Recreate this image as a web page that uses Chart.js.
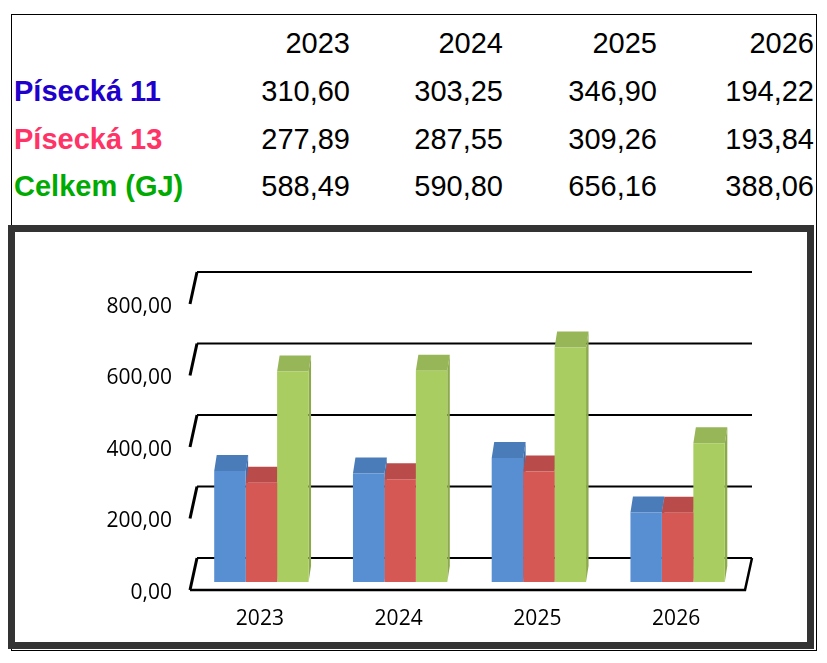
<!DOCTYPE html>
<html>
<head>
<meta charset="utf-8">
<script src="https://cdn.jsdelivr.net/npm/chart.js@4.4.1/dist/chart.umd.min.js"></script>
<style>
  html, body { margin: 0; padding: 0; background: #fff; }
  body { width: 827px; height: 663px; position: relative; overflow: hidden; }
  #frame { position: absolute; left: 11px; top: 14px; width: 806px; height: 637px; border: 1px solid #000; box-sizing: border-box; }
  #chartBox { position: absolute; left: 8px; top: 225px; width: 806px; height: 424px; border: 7px solid #333; box-sizing: border-box; background: #fff; }
  .cell { position: absolute; font-family: "Liberation Sans", Arial, sans-serif; font-size: 29px; line-height: 29px; white-space: nowrap; color: #000; }
  .name { font-weight: bold; left: 14px; }
  canvas { position: absolute; left: 0; top: 0; }
</style>
</head>
<body>
<div id="frame"></div>
<div id="table"></div>
<div id="chartBox"></div>
<canvas id="chart" width="827" height="663"></canvas>
<script>
// chart data
const years = ['2023', '2024', '2025', '2026'];
const seriesNames = ['Písecká 11', 'Písecká 13', 'Celkem (GJ)'];
const pisecka11 = [310.60, 303.25, 346.90, 194.22];
const pisecka13 = [277.89, 287.55, 309.26, 193.84];
const celkem = [588.49, 590.80, 656.16, 388.06];
const yTicks = [0, 200, 400, 600, 800];

const nameColors = ['#2000cc', '#ff3366', '#00aa00'];
const frontColors = ['#588fd2', '#d55855', '#aacd62'];
const topColors = ['#4a7cba', '#b94c4a', '#97b658'];
const sideColors = ['#416eaa', '#a54240', '#8caa4b'];

const fmt = v => v.toFixed(2).replace('.', ',');

// --- table above the chart ---
const colRight = [350, 503, 657, 814];
const rowTop = [28.5, 77, 124.5, 172];
const table = document.getElementById('table');

function addCell(text, top, right, cls, color) {
    const d = document.createElement('div');
    d.className = 'cell' + (cls ? ' ' + cls : '');
    d.textContent = text;
    d.style.top = top + 'px';
    if (right != null) d.style.right = (827 - right) + 'px';
    if (color) d.style.color = color;
    table.appendChild(d);
}

years.forEach((yr, i) => addCell(yr, rowTop[0], colRight[i]));
[pisecka11, pisecka13, celkem].forEach((vals, r) => {
    addCell(seriesNames[r], rowTop[r + 1], null, 'name', nameColors[r]);
    vals.forEach((v, i) => addCell(fmt(v), rowTop[r + 1], colRight[i]));
});

// --- pseudo 3D look ---
const BAR_DX = 2.5, BAR_DY = 16;      // bar depth
const BACK_DX = 5, BACK_DY = 24;      // bars plane -> back wall
const FRONT_DX = 2, FRONT_DY = 8;     // bars plane -> front edge of floor

const pseudo3d = {
    id: 'pseudo3d',
    beforeDatasetsDraw(chart) {
        const { ctx, chartArea } = chart;
        const y = chart.scales.y;
        const l = chartArea.left, r = chartArea.right;
        ctx.save();
        ctx.strokeStyle = '#000';

        // back wall lines + slanted left ticks
        y.ticks.forEach(t => {
            const py = y.getPixelForValue(t.value);
            ctx.lineWidth = 2;
            ctx.beginPath();
            ctx.moveTo(l + BACK_DX, py - BACK_DY);
            ctx.lineTo(r + BACK_DX, py - BACK_DY);
            ctx.stroke();
            ctx.lineWidth = 3;
            ctx.beginPath();
            ctx.moveTo(l + BACK_DX, py - BACK_DY);
            ctx.lineTo(l - FRONT_DX, py + FRONT_DY);
            ctx.stroke();
        });

        // floor front edge and right side
        const p0 = y.getPixelForValue(0);
        ctx.lineWidth = 2.5;
        ctx.beginPath();
        ctx.moveTo(l - FRONT_DX, p0 + FRONT_DY);
        ctx.lineTo(r - FRONT_DX, p0 + FRONT_DY);
        ctx.lineTo(r + BACK_DX, p0 - BACK_DY);
        ctx.stroke();

        // bar side and top faces (front faces are drawn by Chart.js afterwards)
        chart.data.datasets.forEach((ds, i) => {
            const meta = chart.getDatasetMeta(i);
            meta.data.forEach(bar => {
                const { x, y: top, base, width } = bar.getProps(['x', 'y', 'base', 'width'], true);
                const left = x - width / 2, right = x + width / 2;
                ctx.fillStyle = sideColors[i];
                ctx.beginPath();
                ctx.moveTo(right, top);
                ctx.lineTo(right + BAR_DX, top - BAR_DY);
                ctx.lineTo(right + BAR_DX, base - BAR_DY);
                ctx.lineTo(right, base);
                ctx.closePath();
                ctx.fill();
                ctx.fillStyle = topColors[i];
                ctx.beginPath();
                ctx.moveTo(left, top);
                ctx.lineTo(right, top);
                ctx.lineTo(right + BAR_DX, top - BAR_DY);
                ctx.lineTo(left + BAR_DX, top - BAR_DY);
                ctx.closePath();
                ctx.fill();
            });
        });
        ctx.restore();
    }
};

new Chart(document.getElementById('chart'), {
    type: 'bar',
    data: {
        labels: years,
        datasets: [
            { label: seriesNames[0], data: pisecka11, backgroundColor: frontColors[0] },
            { label: seriesNames[1], data: pisecka13, backgroundColor: frontColors[1] },
            { label: seriesNames[2], data: celkem, backgroundColor: frontColors[2] }
        ]
    },
    options: {
        responsive: false,
        animation: false,
        devicePixelRatio: 1,
        layout: { padding: { left: 0, top: 296, right: 80, bottom: 0 } },
        datasets: { bar: { categoryPercentage: 0.68, barPercentage: 1.0, borderWidth: 0 } },
        plugins: { legend: { display: false }, tooltip: { enabled: false } },
        scales: {
            x: {
                grid: { display: false },
                border: { display: false },
                ticks: { color: '#000', font: { family: 'Open Sans', size: 21 }, padding: 16, labelOffset: -1.5, maxRotation: 0 },
                afterFit: s => { s.height = 81; }
            },
            y: {
                min: 0,
                max: yTicks[yTicks.length - 1],
                afterBuildTicks: s => { s.ticks = yTicks.map(v => ({ value: v })); },
                grid: { display: false },
                border: { display: false },
                ticks: { color: '#000', font: { family: 'Open Sans', size: 21 }, padding: 12, labelOffset: 11, callback: v => fmt(v) },
                afterFit: s => { s.width = 192; }
            }
        }
    },
    plugins: [pseudo3d]
});
</script>
</body>
</html>
